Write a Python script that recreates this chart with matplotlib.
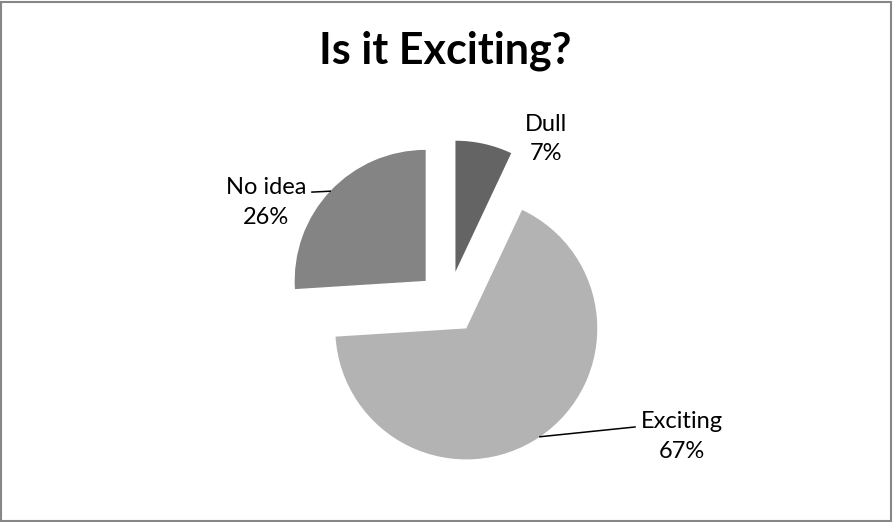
import numpy as np
import matplotlib
matplotlib.use("Agg")
import matplotlib.pyplot as plt
from matplotlib.patches import Rectangle

labels = ["Dull", "Exciting", "No idea"]
values = [7, 67, 26]
colors = ["#646464", "#b3b3b3", "#848484"]
title = "Is it Exciting?"

plt.rcParams['font.family'] = ['Lato', 'DejaVu Sans']

fig = plt.figure(figsize=(8.93, 5.22), dpi=100)
ax = fig.add_axes([0, 0, 1, 1])

explode = 0.24
wedges, _ = ax.pie(values, colors=colors, startangle=90, counterclock=False,
                   explode=[explode] * len(values), radius=1.0,
                   wedgeprops=dict(linewidth=0))

# scale: 131 px per unit, pie centre at (448.6, 302.4) px from top-left
s = 131.0
ax.set_xlim(-448.6 / s, (893 - 448.6) / s)
ax.set_ylim(-(522 - 302.4) / s, 302.4 / s)
ax.set_aspect('equal')
ax.axis('off')

# labels: position (data units), leader elbow or None
label_pos = {
    "Dull": ((0.744, 1.247), None),
    "Exciting": ((1.781, -1.021), (1.423, -0.951)),
    "No idea": ((-1.394, 0.760), (-1.043, 0.842)),
}
total = sum(values)
for w, lab, v in zip(wedges, labels, values):
    mid = np.deg2rad((w.theta1 + w.theta2) / 2)
    (tx, ty), elbow = label_pos[lab]
    ax.text(tx, ty, f"{lab}\n{round(100 * v / total)}%", ha='center', va='center',
            fontsize=17, linespacing=1.52, color='black')
    if elbow is not None:
        ex = (1 + explode) * np.cos(mid)
        ey = (1 + explode) * np.sin(mid)
        ax.plot([ex, elbow[0]], [ey, elbow[1]], color='black', lw=1.1)

fig.text(445 / 893, 1 - 51 / 522, title, ha='center', va='center',
         fontsize=31, fontweight='bold', color='black')

fig.patches.append(Rectangle((1 / 893, 1 / 522), 890 / 893, 519 / 522,
                             transform=fig.transFigure, fill=False,
                             edgecolor='#878787', linewidth=1.5))

fig.savefig("out.png", dpi=100)
